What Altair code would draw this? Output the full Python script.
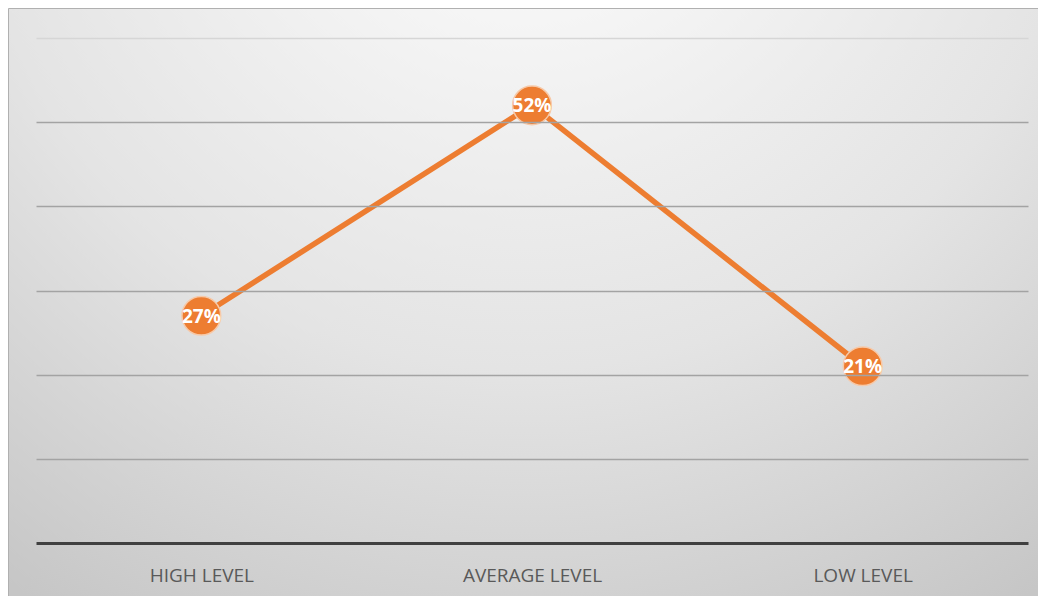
import altair as alt
import pandas as pd

categories = ["HIGH LEVEL", "AVERAGE LEVEL", "LOW LEVEL"]
values = [0.27, 0.52, 0.21]
labels = ["27%", "52%", "21%"]

df = pd.DataFrame({"level": categories, "value": values, "label": labels})

W, H = 992, 505
PL, PT, PR, PB = 28, 30, 10, 53

x_enc = alt.X("level:N", sort=categories, title=None,
              scale=alt.Scale(type="point", padding=0.5),
              axis=alt.Axis(labelFontSize=19, labelColor="#595959", labelFont="Open Sans",
                            labelPadding=23, ticks=False, domainColor="#404040",
                            domainWidth=3, labelAngle=0, grid=False, zindex=1))
y_enc = alt.Y("value:Q", title=None,
              scale=alt.Scale(domain=[0, 0.6], nice=False, zero=True),
              axis=alt.Axis(values=[0.1, 0.2, 0.3, 0.4, 0.5, 0.6], labels=False, ticks=False,
                            domain=False, grid=True, zindex=1,
                            gridColor={"condition": {"test": "datum.value >= 0.6", "value": "#d6d6d6"},
                                       "value": "#a3a3a3"},
                            gridWidth=1.6))

bg = alt.Chart(pd.DataFrame({"a": [0]})).mark_rect(
    fill={"gradient": "radial", "x1": 0.5, "y1": 0.02, "r1": 0.0,
          "x2": 0.5, "y2": 0.02, "r2": 0.9,
          "stops": [{"offset": 0, "color": "#ffffff"},
                    {"offset": 0.6, "color": "#e4e4e4"},
                    {"offset": 1, "color": "#c6c6c6"}]},
    stroke="#b0b0b0", strokeWidth=1
).encode(x=alt.value(-PL + 0.5), x2=alt.value(W + PR + 4),
         y=alt.value(-PT + 0.5), y2=alt.value(H + PB + 10))

base = alt.Chart(df)
line = base.mark_line(color="#ED7D31", strokeWidth=5.5).encode(x=x_enc, y=y_enc)
pts = base.mark_point(filled=True, color="#ED7D31", size=1500, opacity=1,
                      stroke="#f7c9a8", strokeWidth=1.5).encode(x=x_enc, y=y_enc)
txt = base.mark_text(color="white", fontWeight="bold", fontSize=19, font="Open Sans",
                     baseline="middle", dy=1).encode(x=x_enc, y=y_enc, text="label:N")

chart = alt.layer(bg, line, pts, txt).properties(
    width=W, height=H,
    padding={"left": PL, "top": PT, "right": PR, "bottom": PB},
    autosize=alt.AutoSizeParams(type="none"),
).configure_view(stroke=None).configure(background="white")

chart.save("out.html", embed_options={"renderer": "svg", "actions": False})
